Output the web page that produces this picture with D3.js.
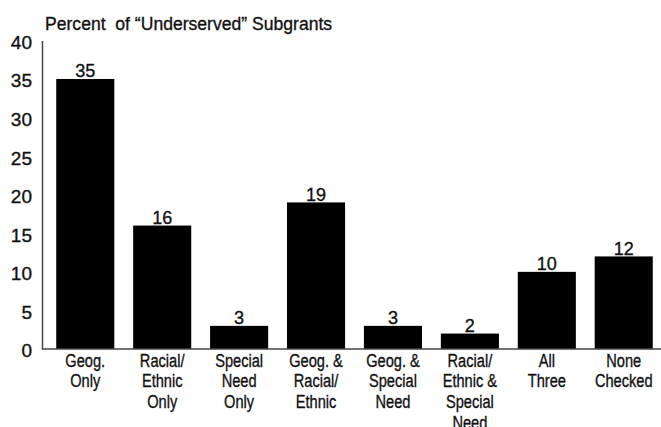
<!DOCTYPE html>
<html><head><meta charset="utf-8">
<script src="https://cdn.jsdelivr.net/npm/d3@7"></script>
<style>
body{margin:0;background:#fff;}
text{font-family:"Liberation Sans",Arial,sans-serif;fill:#111;stroke:#111;stroke-width:0.35px;}
</style></head>
<body>
<svg id="c" width="661" height="427"></svg>
<script>
const categories = [
  ["Geog.","Only"],
  ["Racial/","Ethnic","Only"],
  ["Special","Need","Only"],
  ["Geog. &","Racial/","Ethnic"],
  ["Geog. &","Special","Need"],
  ["Racial/","Ethnic &","Special","Need"],
  ["All","Three"],
  ["None","Checked"]
];
const values = [35, 16, 3, 19, 3, 2, 10, 12];
const yTicks = [0, 5, 10, 15, 20, 25, 30, 35, 40];
const title = "Percent  of \u201cUnderserved\u201d Subgrants";

const svg = d3.select("#c");
const keys = categories.map((c,i)=>i);
const x = d3.scaleBand().domain(keys).range([47, 662]).paddingInner(0.245).paddingOuter(0.12);
const y = d3.scaleLinear().domain([0, 40]).range([349, 40.4]);
const axisX = 42;
const FS = 19;

// bars
svg.selectAll("rect.bar").data(values).join("rect")
  .attr("class","bar")
  .attr("x",(d,i)=>x(i)).attr("width",x.bandwidth())
  .attr("y",d=>y(d)).attr("height",d=>y(0)-y(d))
  .attr("fill","#000");

// value labels
svg.selectAll("text.val").data(values).join("text")
  .attr("class","val")
  .attr("transform",(d,i)=>`translate(${x(i)+x.bandwidth()/2},${y(d)-1.5}) scale(0.95,1)`)
  .attr("text-anchor","middle")
  .attr("font-size",FS)
  .text(d=>d);

// y axis
const yAxis = d3.axisLeft(y).tickValues(yTicks).tickSize(0).tickPadding(10);
const gy = svg.append("g").attr("transform",`translate(${axisX},0)`).call(yAxis);
gy.select(".domain").attr("stroke","#444").attr("stroke-width",1.5);
gy.selectAll(".tick text").attr("font-size",FS).attr("font-family",null)
  .attr("fill","#111").attr("dy","0.42em");

// baseline
svg.append("line").attr("x1",axisX).attr("x2",661).attr("y1",y(0)).attr("y2",y(0))
  .attr("stroke","#444").attr("stroke-width",1.5);

// category labels
const cl = svg.selectAll("text.cat").data(categories).join("text")
  .attr("class","cat")
  .attr("text-anchor","middle")
  .attr("font-size",FS)
  .attr("transform",(d,i)=>`translate(${x(i)+x.bandwidth()/2},366.5) scale(0.77,1)`);
cl.each(function(lines){
  const t = d3.select(this);
  lines.forEach((ln,j)=>{
    t.append("tspan").attr("x",0).attr("y",j*21).text(ln);
  });
});

// title
svg.append("text").attr("transform","translate(45,30) scale(0.925,1)").attr("font-size",FS)
  .style("white-space","pre").text(title);
</script>
</body></html>
